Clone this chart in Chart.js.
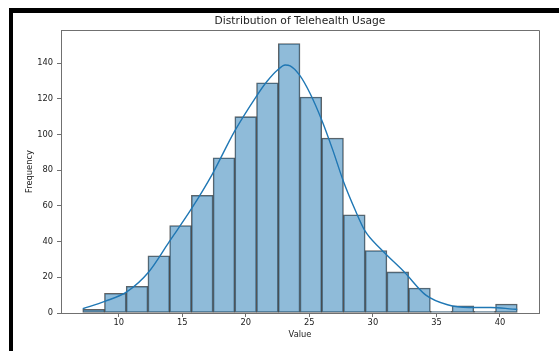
<!DOCTYPE html>
<html lang="en">
<head>
    <meta charset="UTF-8">
    <title>Distribution of Telehealth Usage</title>
    <style>
        body {
            margin: 0;
            background-color: #ffffff;
        }
        .wrap {
            position: relative;
            width: 559px;
            height: 351px;
            overflow: hidden;
        }
        .frame {
            position: absolute;
            left: 9px;
            top: 8px;
            right: 0;
            bottom: 0;
            border-top: 5px solid #000;
            border-left: 4px solid #000;
            pointer-events: none;
        }
    </style>
    <script src="https://cdn.jsdelivr.net/npm/chart.js"></script>
</head>
<body>
    <div class="wrap">
        <canvas id="histChart" width="559" height="351"></canvas>
        <div class="frame"></div>
    </div>

    <script>
        // histogram bins
        var binStart = 7.17;
        var binWidth = 1.7095;
        var counts = [2, 11, 15, 32, 49, 66, 87, 110, 129, 151, 121, 98, 55, 35, 23, 14, 1, 4, 1, 5];

        // kde curve
        var kdeX = [7.17, 8.9, 10.66, 12.36, 13.98, 15.69, 17.38, 19.09, 20.82, 21.66, 22.52, 23.1, 23.49, 24.22, 25.06, 25.98, 26.84, 27.67, 28.59, 29.38, 30.6, 32.47, 34.17, 35.87, 37.58, 39.28, 40.99, 41.36];
        var kdeY = [2.4, 6.5, 12, 23, 40, 58, 78, 101.5, 121.3, 129.7, 136.3, 139, 138.5, 133.4, 123, 108, 91.4, 74, 58, 46, 36, 23, 10, 4.6, 3.1, 3.1, 2.2, 2];

        var xTickStep = 5;
        var yTickStep = 20;

        var barData = counts.map(function(c, i) {
            return { x: binStart + binWidth * (i + 0.5), y: c };
        });
        var kdeData = kdeX.map(function(x, i) {
            return { x: x, y: kdeY[i] };
        });

        var fontFam = "'DejaVu Sans', sans-serif";
        var axisGray = '#707070';

        // top and right spines
        var spines = {
            id: 'spines',
            afterDraw: function(chart) {
                var a = chart.chartArea;
                var c = chart.ctx;
                c.save();
                c.strokeStyle = axisGray;
                c.lineWidth = 1;
                c.beginPath();
                c.moveTo(Math.round(a.left) + 0.5, Math.round(a.top) + 0.5);
                c.lineTo(Math.round(a.right) + 0.5, Math.round(a.top) + 0.5);
                c.lineTo(Math.round(a.right) + 0.5, Math.round(a.bottom) + 0.5);
                c.stroke();
                c.restore();
            }
        };

        new Chart(document.getElementById('histChart').getContext('2d'), {
            type: 'bar',
            data: {
                datasets: [
                    {
                        type: 'line',
                        label: 'KDE',
                        data: kdeData,
                        borderColor: '#1f77b4',
                        borderWidth: 1.4,
                        pointRadius: 0,
                        cubicInterpolationMode: 'monotone',
                        fill: false,
                        order: 0
                    },
                    {
                        label: 'Count',
                        data: barData,
                        backgroundColor: 'rgba(31, 119, 180, 0.5)',
                        borderColor: 'rgba(0, 0, 0, 0.62)',
                        borderWidth: 0.9,
                        borderSkipped: false,
                        barPercentage: 1,
                        categoryPercentage: 1,
                        grouped: false,
                        order: 1
                    }
                ]
            },
            options: {
                responsive: false,
                animation: false,
                devicePixelRatio: 1,
                layout: {
                    padding: { left: 0, right: 20, top: 0, bottom: 0 }
                },
                plugins: {
                    legend: { display: false },
                    tooltip: { enabled: false },
                    title: {
                        display: true,
                        fullSize: false,
                        text: 'Distribution of Telehealth Usage',
                        color: '#222',
                        font: { family: fontFam, size: 10.7, weight: 'normal' },
                        padding: { top: 15, bottom: 2.2 }
                    }
                },
                scales: {
                    x: {
                        type: 'linear',
                        min: 5.46,
                        max: 43.07,
                        offset: false,
                        grid: {
                            display: true,
                            drawOnChartArea: false,
                            drawTicks: true,
                            tickLength: 4,
                            color: axisGray,
                            offset: false
                        },
                        border: { display: true, color: axisGray, width: 1 },
                        ticks: {
                            stepSize: xTickStep,
                            includeBounds: false,
                            padding: 1,
                            maxRotation: 0,
                            color: '#222',
                            font: { family: fontFam, size: 8.3 }
                        },
                        title: {
                            display: true,
                            text: 'Value',
                            color: '#222',
                            font: { family: fontFam, size: 8.3 },
                            padding: { top: 0, bottom: 11 }
                        },
                        afterFit: function(scale) { scale.height = 38; }
                    },
                    y: {
                        min: 0,
                        max: 158.55,
                        grid: {
                            display: true,
                            drawOnChartArea: false,
                            drawTicks: true,
                            tickLength: 4,
                            color: axisGray
                        },
                        border: { display: true, color: axisGray, width: 1 },
                        ticks: {
                            stepSize: yTickStep,
                            includeBounds: false,
                            padding: 4,
                            color: '#222',
                            font: { family: fontFam, size: 8.3 }
                        },
                        title: {
                            display: true,
                            text: 'Frequency',
                            color: '#222',
                            font: { family: fontFam, size: 8.3 },
                            padding: { top: 25, bottom: 0 }
                        },
                        afterFit: function(scale) { scale.width = 61; }
                    }
                }
            },
            plugins: [spines]
        });
    </script>
</body>
</html>
